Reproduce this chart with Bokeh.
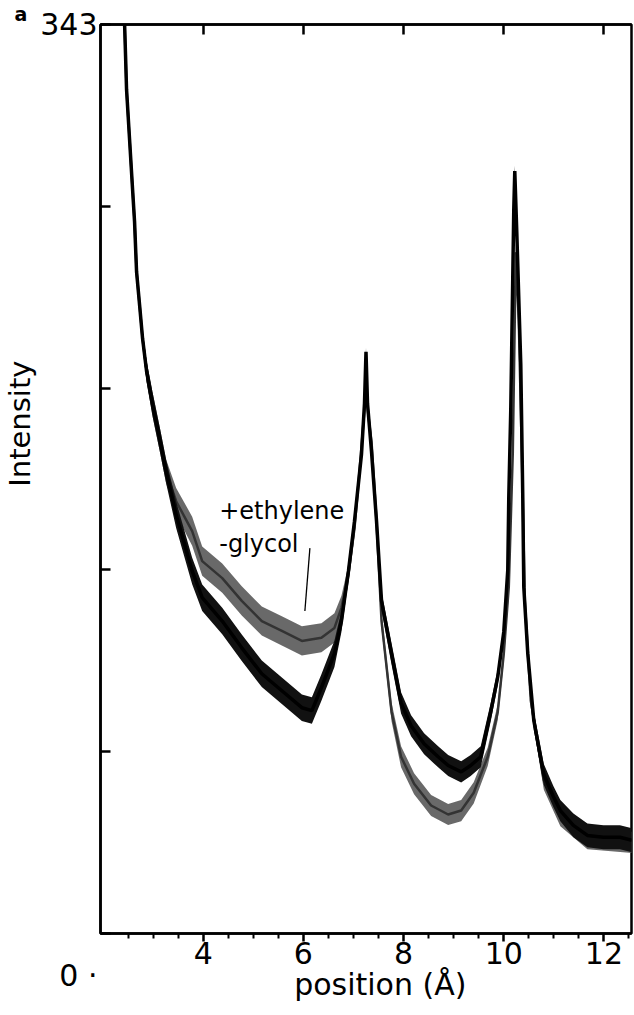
import numpy as np
from bokeh.plotting import figure
from bokeh.models import FixedTicker, LinearAxis, Label, Range1d, Title
from bokeh.embed import file_html
from bokeh.resources import INLINE

# ---- data ----
pos_plain = [2.41, 2.43, 2.45, 2.47, 2.53, 2.59, 2.63, 2.67, 2.73, 2.79, 2.87, 2.99, 3.13, 3.26,
             3.46, 3.78, 3.98, 4.38, 4.77, 5.17, 5.57, 5.97, 6.17, 6.36, 6.62, 6.76, 6.90, 7.02,
             7.16, 7.22, 7.25, 7.28, 7.36, 7.46, 7.56, 7.76, 7.95, 8.15, 8.41, 8.69, 8.89, 9.15,
             9.34, 9.54, 9.74, 9.88, 10.00, 10.08, 10.10, 10.14, 10.18, 10.20, 10.22, 10.26,
             10.34, 10.38, 10.40, 10.48, 10.60, 10.80, 10.99, 11.13, 11.39, 11.67, 11.99, 12.32, 12.56]
int_plain = [360, 343.8, 331.3, 318.5, 299.7, 280.9, 268.5, 249.7, 237.2, 224.5, 212.1, 199.6, 186.8, 174.4,
             158.0, 136.8, 126.7, 117.9, 107.8, 98.0, 91.6, 85.2, 84.1, 92.8, 105.6, 117.9, 136.8, 155.6,
             180.8, 200.0, 219.5, 200.0, 181.8, 155.6, 125.5, 105.5, 87.0, 78.4, 71.6, 66.7, 63.4, 61.0,
             63.4, 66.7, 83.6, 96.8, 113.8, 137.1, 164.2, 197.7, 248.1, 273.4, 287.7, 264.7,
             214.6, 164.2, 130.7, 105.5, 80.3, 60.0, 51.7, 46.4, 40.8, 37.0, 36.3, 36.3, 35.2]
spread_plain = [2, 2, 2, 2, 2.5, 2.5, 2.5, 2.5, 3, 3, 4, 4.5, 4.5, 4.5,
                5, 5, 5, 5, 5, 5, 5, 5, 5, 5, 5, 4, 3.5, 3,
                3, 2.5, 1.5, 2.5, 3, 3, 3.5, 4, 4, 4, 4, 4, 4, 4,
                4, 4, 3.5, 3, 3, 3, 3, 3, 3, 3, 2, 3,
                3, 3, 3, 3, 3.5, 4, 4, 4, 4.5, 4.5, 4.5, 4.5, 4.5]

pos_glycol = [2.41, 2.43, 2.45, 2.47, 2.53, 2.59, 2.63, 2.67, 2.73, 2.79, 2.87, 2.99, 3.13, 3.26,
              3.46, 3.78, 3.98, 4.38, 4.77, 5.17, 5.57, 5.97, 6.36, 6.62, 6.76, 6.90, 7.02,
              7.12, 7.20, 7.25, 7.30, 7.36, 7.46, 7.56, 7.76, 7.95, 8.21, 8.55, 8.89, 9.15,
              9.40, 9.68, 9.88, 10.00, 10.10, 10.18, 10.24, 10.30, 10.36, 10.42, 10.54,
              10.80, 11.13, 11.67, 12.56]
int_glycol = [360, 343.8, 331.3, 318.5, 299.7, 280.9, 268.5, 249.7, 237.2, 224.5, 212.1, 199.6, 186.8, 174.4,
              163.1, 151.8, 140.5, 134.1, 125.5, 117.9, 114.2, 110.4, 111.6, 115.3, 122.9, 135.6, 152.9,
              174.4, 193.2, 205.0, 195.0, 185.6, 155.6, 117.9, 83.6, 66.7, 56.5, 48.3, 44.9, 46.4,
              53.1, 66.7, 83.6, 105.5, 130.7, 181.1, 257.1, 231.1, 181.8, 125.5, 87.8,
              57.7, 44.5, 35.8, 34.4]
spread_glycol = [2, 2, 2, 2, 2.5, 2.5, 2.5, 2.5, 3, 3, 4, 4.5, 4.5, 4.5,
                 5, 5.5, 5.5, 5.5, 5.5, 5.5, 5.5, 5.5, 5.5, 5.5, 4.5, 3.5, 3,
                 3, 3, 2.5, 3, 3, 3, 3, 3.5, 4, 4, 4, 4, 4,
                 4, 3.5, 3, 3, 3, 3, 3, 3, 3, 3, 3,
                 3.5, 4, 4, 4]

x_major = [4, 6, 8, 10, 12]
x_labels = ["4", "6", "8", "10", "12"]
x_minor = [2.5, 3, 3.5, 4.5, 5, 5.5, 6.5, 7, 7.5, 8.5, 9, 9.5, 10.5, 11, 11.5, 12.5]
y_ticks = [0, 68.6, 137.2, 205.8, 274.4, 343]
y_labels = ["\n\n0 ·", "", "", "", "", "343"]

FONT = "DejaVu Sans"
NB = "\u00a0"

p = figure(width=634, height=1015, output_backend="svg", toolbar_location=None,
           x_range=Range1d(1.95, 12.55), y_range=Range1d(0, 343),
           min_border_left=98, min_border_right=3, min_border_top=22, min_border_bottom=82,
           x_axis_location=None, y_axis_location=None)
p.grid.visible = False
p.background_fill_color = "white"
p.border_fill_color = "white"
p.outline_line_color = "black"
p.outline_line_width = 2.5

# curves
xg = np.array(pos_glycol); yg = np.array(int_glycol); sg = np.array(spread_glycol)
xb = np.array(pos_plain); yb = np.array(int_plain); sb = np.array(spread_plain)

p.varea(x=xg, y1=yg - sg, y2=yg + sg, fill_color="#595959", fill_alpha=0.9)
p.line(xg, yg, line_color="#333333", line_width=2.5)
p.varea(x=xb, y1=yb - sb, y2=yb + sb, fill_color="#111111", fill_alpha=1.0)
p.line(xb, yb, line_color="#000000", line_width=3.5)

# axes
xaxis = LinearAxis(ticker=FixedTicker(ticks=x_major, minor_ticks=x_minor),
                   major_label_overrides={v: s for v, s in zip(x_major, x_labels)})
xaxis.major_tick_out = 8
xaxis.major_tick_in = 0
xaxis.minor_tick_out = 5
xaxis.minor_tick_in = 0
xaxis.major_tick_line_width = 2.5
xaxis.minor_tick_line_width = 2
xaxis.axis_line_width = 2.5
xaxis.major_label_text_font = FONT
xaxis.major_label_text_font_size = "30px"
xaxis.major_label_text_color = "black"
xaxis.major_label_standoff = 0
xaxis.axis_label = NB * 3 + "position (Å)"
xaxis.axis_label_text_font = FONT
xaxis.axis_label_text_font_size = "30px"
xaxis.axis_label_text_font_style = "normal"
xaxis.axis_label_text_color = "black"
xaxis.axis_label_standoff = 0
p.add_layout(xaxis, "below")

topaxis = LinearAxis(ticker=FixedTicker(ticks=x_major, minor_ticks=[]),
                     major_label_overrides={v: "" for v in x_major})
topaxis.major_tick_in = 10
topaxis.major_tick_out = 0
topaxis.major_tick_line_width = 2.5
topaxis.axis_line_width = 2.5
topaxis.major_label_text_font_size = "1px"
topaxis.major_label_standoff = 0
p.add_layout(topaxis, "above")

yaxis = LinearAxis(ticker=FixedTicker(ticks=y_ticks, minor_ticks=[]),
                   major_label_overrides={v: s for v, s in zip(y_ticks, y_labels)})
yaxis.major_tick_in = 10
yaxis.major_tick_out = 0
yaxis.major_tick_line_width = 2.5
yaxis.axis_line_width = 2.5
yaxis.major_label_text_font = FONT
yaxis.major_label_text_font_size = "30px"
yaxis.major_label_text_color = "black"
yaxis.major_label_standoff = 3
yaxis.axis_label = NB * 12 + "Intensity"
yaxis.axis_label_text_font = FONT
yaxis.axis_label_text_font_size = "29px"
yaxis.axis_label_text_font_style = "normal"
yaxis.axis_label_text_color = "black"
yaxis.axis_label_standoff = 0
p.add_layout(yaxis, "left")

panel_title = Title(text="a", align="left", offset=-86, standoff=0,
                    text_font=FONT, text_font_style="bold", text_font_size="19px",
                    text_color="black")
p.add_layout(panel_title, "above")

p.add_layout(Label(x=4.32, y=159.3, text="+ethylene", text_font=FONT, text_color="black",
                   text_font_size="24px", text_align="left", text_baseline="alphabetic"))
p.add_layout(Label(x=4.32, y=146.9, text="-glycol", text_font=FONT, text_color="black",
                   text_font_size="24px", text_align="left", text_baseline="alphabetic"))
p.line([6.13, 6.03], [145.4, 121.7], line_color="black", line_width=1.3)

open("out.html", "w").write(file_html(p, INLINE))
